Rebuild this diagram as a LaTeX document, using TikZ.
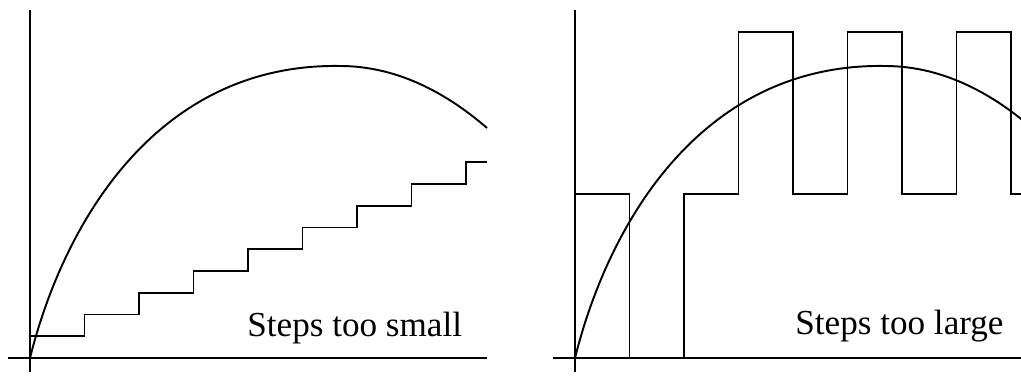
\documentclass[tikz,border=0pt]{standalone}
\usepackage{fontspec}
\setmainfont{Liberation Serif}
\begin{document}
\begin{tikzpicture}[x=0.02cm, y=0.02cm,
  ax/.style={line width=0.85pt},
  sig/.style={line width=1.1pt},
  lbl/.style={anchor=base west, inner sep=0pt, font=\fontsize{20}{24}\selectfont}]
\useasboundingbox (0,0) rectangle (1021,385);
\clip (0,0) rectangle (1021,385);
% left: steps too small
\begin{scope}[shift={(30,27)}]
\draw[ax] (-22,0) -- (457,0);
\draw[ax] (0,-14) -- (0,348);
\draw[sig] (0,0) .. controls (35,140) and (130,295) .. (310,292)
  .. controls (370,292) and (420,262) .. (457,230);
\draw[sig] (0,0) \foreach \i in {1,...,8} { |- ({54.5*\i},{21.75*\i}) } |- (457,195.75);
\node[lbl] (small) at (217,21) {Steps too small};
\end{scope}
% right: steps too large
\begin{scope}[shift={(575,27)}]
\draw[ax] (-22,0) -- (470,0);
\draw[ax] (0,-14) -- (0,348);
\draw[sig] (0,0) .. controls (35,140) and (130,295) .. (310,292)
  .. controls (370,292) and (420,262) .. (457,230);
\draw[sig] (0,0) \foreach \h [count=\k] in {164,0,164,326,164,326,164,326,164} { |- ({54.5*\k},\h) };
\node[lbl] (large) at (220,23) {Steps too large};
\end{scope}
\end{tikzpicture}
\end{document}
